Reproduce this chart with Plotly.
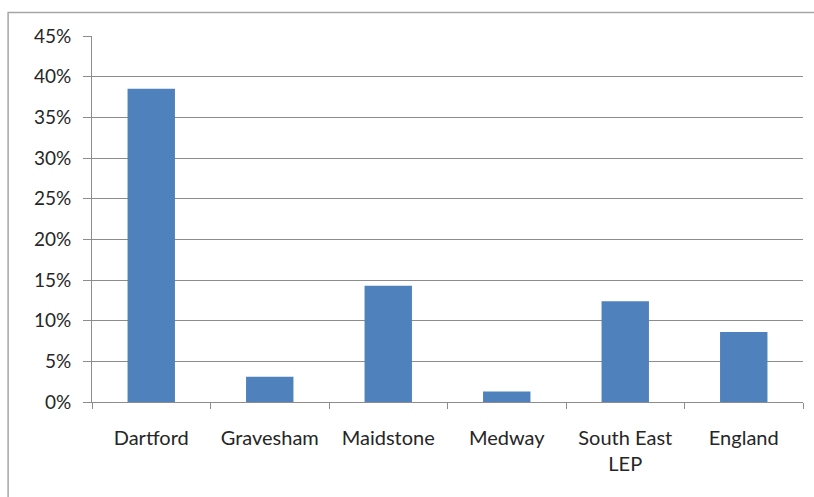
import plotly.graph_objects as go

categories = ["Dartford", "Gravesham", "Maidstone", "Medway", "South East<br>LEP", "England"]
values = [0.385, 0.031, 0.143, 0.013, 0.124, 0.086]
tick_vals = [0, 0.05, 0.10, 0.15, 0.20, 0.25, 0.30, 0.35, 0.40, 0.45]
tick_text = ["0%", "5%", "10%", "15%", "20%", "25%", "30%", "35%", "40%", "45%"]

fig = go.Figure(go.Bar(x=categories, y=values, marker=dict(color="#4f81bd", line=dict(width=0)), width=0.4))

fig.update_layout(
    width=814, height=497,
    margin=dict(l=92, r=11, t=36, b=95),
    paper_bgcolor="white", plot_bgcolor="white",
    font=dict(family="Lato, Open Sans, DejaVu Sans, sans-serif", size=19, color="#262626"),
    showlegend=False,
    bargap=0.6,
    shapes=[dict(type="rect", xref="paper", yref="paper", x0=-0.118, x1=1.2, y0=-0.5, y1=1.064,
                 line=dict(color="#a6a6a6", width=1.5), layer="below")],
)
fig.update_xaxes(
    showline=True, linecolor="#8c8c8c", linewidth=1,
    ticks="outside", tickson="boundaries", ticklen=6, tickcolor="#8c8c8c",
    showgrid=False, tickfont=dict(size=20), ticklabelstandoff=18,
)
fig.update_yaxes(
    range=[0, 0.45], tickvals=tick_vals, ticktext=tick_text,
    showline=True, linecolor="#8c8c8c", linewidth=1,
    ticks="outside", ticklen=8, tickcolor="#8c8c8c",
    showgrid=True, gridcolor="#8c8c8c", gridwidth=1,
    zeroline=False, tickfont=dict(size=19), ticklabelstandoff=8,
)

fig.write_html("out.html")
